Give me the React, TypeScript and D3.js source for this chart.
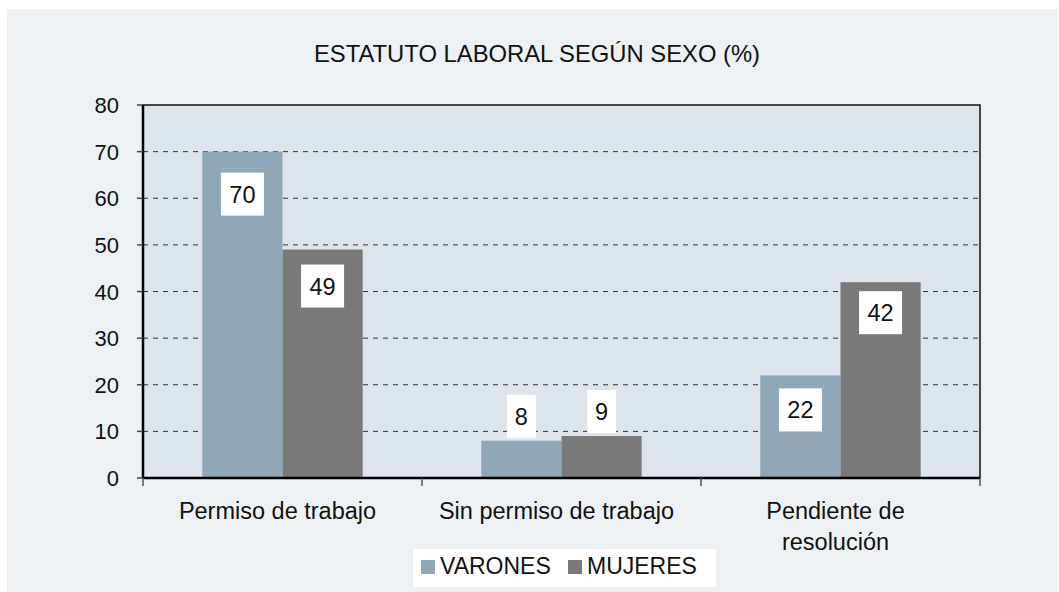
import * as d3 from 'd3';

const categories = ['Permiso de trabajo', 'Sin permiso de trabajo', 'Pendiente de resolución'];
const categoryLines = [['Permiso de trabajo'], ['Sin permiso de trabajo'], ['Pendiente de', 'resolución']];
const seriesNames = ['VARONES', 'MUJERES'];
const varones = [70, 8, 22];
const mujeres = [49, 9, 42];
const yTicks = [0, 10, 20, 30, 40, 50, 60, 70, 80];

// where each value box sits, px below the bar top (negative = above)
const labelOffset = [
  [21, 15],
  [-46, -46],
  [13, 9],
];

const W = 1059;
const H = 592;
const plot = { left: 143, right: 980, top: 105, bottom: 478 };
const colors = ['#8fa7b6', '#797979'];
const font = 'Liberation Sans, Arial, Helvetica, sans-serif';

export default function App() {
  const x = d3.scaleBand<string>().domain(categories).range([plot.left, plot.right]);
  const xs = d3.scaleBand<string>().domain(seriesNames).range([0, x.bandwidth()]).paddingOuter(0.74);
  const y = d3.scaleLinear().domain([0, 80]).range([plot.bottom, plot.top]);
  const series = [varones, mujeres];

  const boundaries = d3.range(categories.length + 1).map((i) => plot.left + i * x.step());

  return (
    <svg
      width={W}
      height={H}
      style={{ position: 'absolute', left: 0, top: 0, fontFamily: font }}
    >
      <rect x={0} y={0} width={W} height={H} fill="#ffffff" />
      <rect x={7} y={9} width={1051} height={583} fill="#edf1f4" />

      <text x={537} y={62} textAnchor="middle" fontSize={23.8} fill="#111">
        ESTATUTO LABORAL SEGÚN SEXO (%)
      </text>

      <rect
        x={plot.left}
        y={plot.top}
        width={plot.right - plot.left}
        height={plot.bottom - plot.top}
        fill="#dee4eb"
      />

      {/* dashed gridlines */}
      {yTicks.filter((t) => t > 0 && t < 80).map((t) => (
        <line
          key={t}
          x1={plot.left}
          x2={plot.right}
          y1={y(t)}
          y2={y(t)}
          stroke="#333"
          strokeWidth={1}
          strokeDasharray="5,5"
        />
      ))}

      {/* bars */}
      {series.map((vals, s) =>
        vals.map((v, i) => (
          <rect
            key={`${s}-${i}`}
            x={x(categories[i])! + xs(seriesNames[s])!}
            y={y(v)}
            width={xs.bandwidth()}
            height={y(0) - y(v)}
            fill={colors[s]}
          />
        ))
      )}

      {/* border */}
      <rect
        x={plot.left}
        y={plot.top}
        width={plot.right - plot.left}
        height={plot.bottom - plot.top}
        fill="none"
        stroke="#111"
        strokeWidth={1.5}
      />
      <line x1={plot.left} x2={plot.left} y1={plot.top} y2={plot.bottom + 1} stroke="#000" strokeWidth={2.5} />
      <line x1={plot.left} x2={plot.right} y1={plot.bottom} y2={plot.bottom} stroke="#000" strokeWidth={2.5} />

      {/* y axis ticks */}
      {yTicks.map((t) => (
        <g key={t}>
          <line x1={plot.left - 6} x2={plot.left} y1={y(t)} y2={y(t)} stroke="#444" strokeWidth={1.5} />
          <text x={119} y={y(t) + 8} textAnchor="end" fontSize={22} fill="#111">
            {t}
          </text>
        </g>
      ))}

      {/* x axis ticks */}
      {boundaries.map((b, i) => (
        <line key={i} x1={b} x2={b} y1={plot.bottom} y2={plot.bottom + 8} stroke="#555" strokeWidth={1.5} />
      ))}

      {/* category labels */}
      {categoryLines.map((lines, i) => (
        <text
          key={i}
          x={x(categories[i])! + x.bandwidth() / 2 - 5}
          y={519}
          textAnchor="middle"
          fontSize={23.5}
          fill="#111"
        >
          {lines.map((ln, k) => (
            <tspan key={k} x={x(categories[i])! + x.bandwidth() / 2 - 5} dy={k === 0 ? 0 : 31}>
              {ln}
            </tspan>
          ))}
        </text>
      ))}

      {/* value boxes */}
      {series.map((vals, s) =>
        vals.map((v, i) => {
          const cx = x(categories[i])! + xs(seriesNames[s])! + xs.bandwidth() / 2;
          const bw = String(v).length === 1 ? 29 : 43;
          const top = y(v) + labelOffset[i][s];
          return (
            <g key={`l${s}-${i}`}>
              <rect x={cx - bw / 2} y={top} width={bw} height={43} fill="#fff" />
              <text x={cx} y={top + 30} textAnchor="middle" fontSize={23.5} fill="#111">
                {v}
              </text>
            </g>
          );
        })
      )}

      {/* legend */}
      <rect x={413} y={549} width={303} height={38} fill="#fff" />
      {seriesNames.map((name, s) => {
        const lx = s === 0 ? 421 : 568;
        return (
          <g key={name}>
            <rect x={lx} y={560} width={14} height={14} fill={colors[s]} />
            <text x={lx + 19} y={574} fontSize={23} fill="#111">
              {name}
            </text>
          </g>
        );
      })}
    </svg>
  );
}
